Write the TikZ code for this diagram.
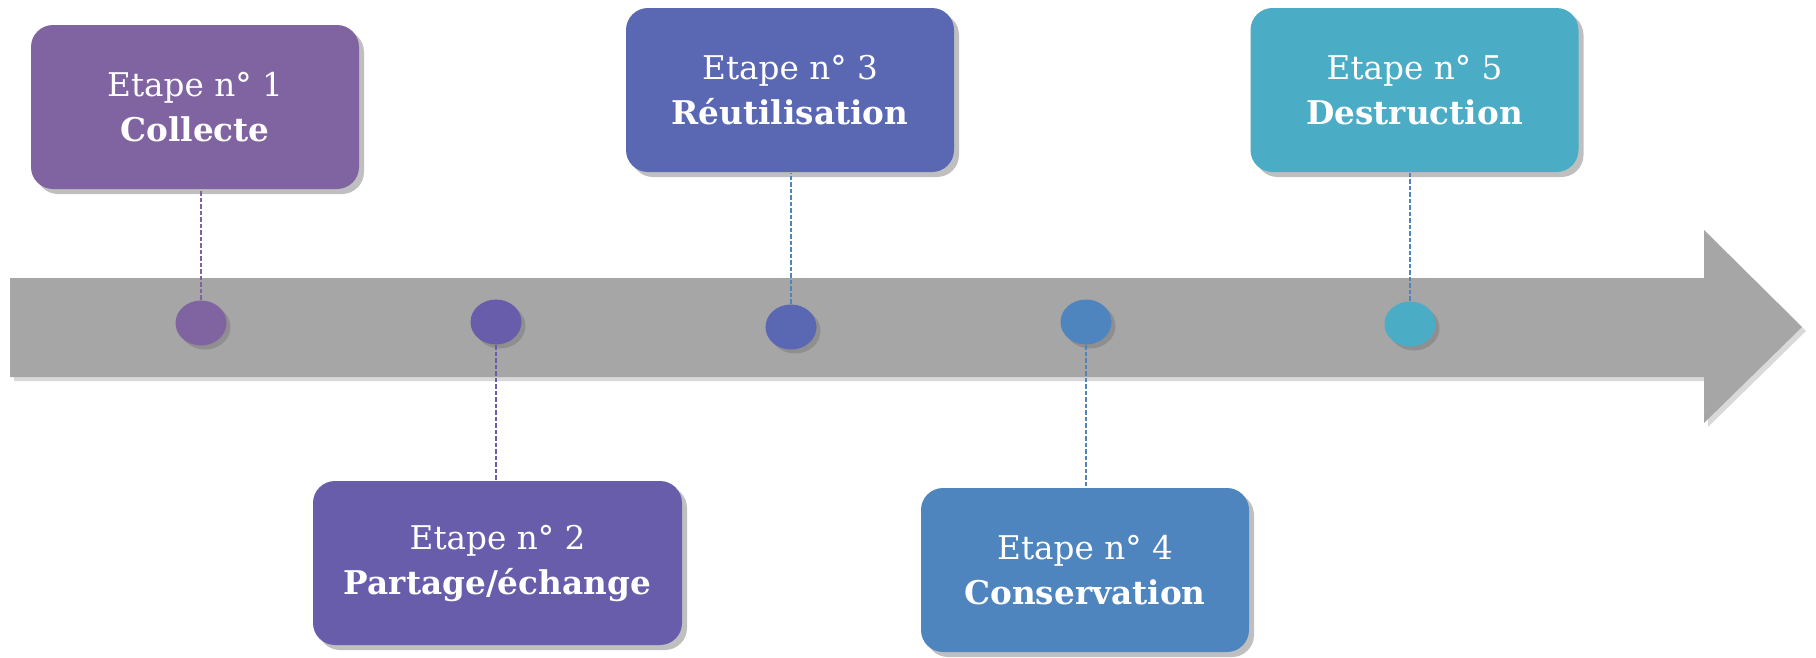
\documentclass[tikz,border=0pt]{standalone}
\usepackage{fontspec}
\setmainfont{DejaVu Serif}
\usetikzlibrary{shapes.geometric,shadows}

\definecolor{stepone}{HTML}{8064A2}
\definecolor{steptwo}{HTML}{675DAB}
\definecolor{stepthree}{HTML}{5A67B3}
\definecolor{stepfour}{HTML}{4F85BF}
\definecolor{stepfive}{HTML}{4BACC6}
\definecolor{shaftgray}{HTML}{A6A6A6}

\begin{document}
\begin{tikzpicture}[x=0.1mm, y=-0.1mm,
    etapebox/.style={rectangle, rounded corners=2.2mm, minimum width=32.8mm,
        minimum height=16.4mm, align=center, text=white,
        font=\fontsize{9.3}{12.8}\selectfont,
        drop shadow={shadow xshift=0.5mm, shadow yshift=-0.5mm, opacity=0.5}},
    etapedot/.style={ellipse, minimum width=5.1mm, minimum height=4.5mm, inner sep=0pt,
        drop shadow={shadow xshift=0.4mm, shadow yshift=-0.4mm, opacity=0.6}},
    link/.style={dash pattern=on 0.45mm off 0.2mm, line width=0.18mm}]
\useasboundingbox (0,0) rectangle (1816,657);

%% the grey arrow
\fill[shaftgray, drop shadow={shadow xshift=0.4mm, shadow yshift=-0.4mm, opacity=0.3}]
    (10,278) -- (1704,278) -- (1704,230) -- (1802,327) -- (1704,423)
    -- (1704,377) -- (10,377) -- cycle;

%% the steps
\node[etapebox, fill=stepone]   (box1) at (195,107)   {Etape n° 1\\\textbf{Collecte}};
\node[etapebox, fill=steptwo, minimum width=36.9mm]
                                (box2) at (497.5,563) {Etape n° 2\\\textbf{Partage/échange}};
\node[etapebox, fill=stepthree] (box3) at (790,90)    {Etape n° 3\\\textbf{Réutilisation}};
\node[etapebox, fill=stepfour]  (box4) at (1085,570)  {Etape n° 4\\\textbf{Conservation}};
\node[etapebox, fill=stepfive]  (box5) at (1414.5,90) {Etape n° 5\\\textbf{Destruction}};

\node[etapedot, fill=stepone]   (dot1) at (201,323)  {};
\node[etapedot, fill=steptwo]   (dot2) at (496,322)  {};
\node[etapedot, fill=stepthree] (dot3) at (791,327)  {};
\node[etapedot, fill=stepfour]  (dot4) at (1086,322) {};
\node[etapedot, fill=stepfive]  (dot5) at (1410,324) {};

%% dashed links
\draw[link, stepone]  (dot1.north) -- (dot1.north |- box1.south);
\draw[link, steptwo]  (dot2.south) -- (dot2.south |- box2.north);
\draw[link, stepfour] (dot3.north) -- (dot3.north |- box3.south);
\draw[link, stepfour] (dot4.south) -- (dot4.south |- box4.north);
\draw[link, stepfour] (dot5.north) -- (dot5.north |- box5.south);
\end{tikzpicture}
\end{document}
